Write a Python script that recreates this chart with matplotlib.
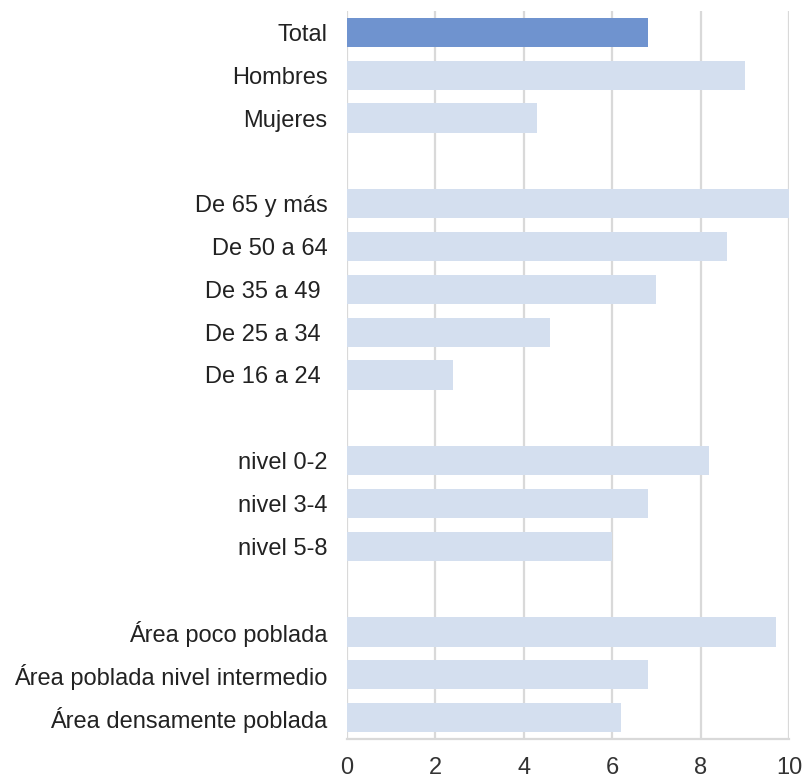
import numpy as np
import matplotlib.pyplot as plt

plt.rcParams['font.family'] = ['Liberation Sans', 'DejaVu Sans']

# categories top to bottom, None = empty spacer row
labels = ["Total", "Hombres", "Mujeres", None,
          "De 65 y más", "De 50 a 64", "De 35 a 49 ", "De 25 a 34 ", "De 16 a 24 ", None,
          "nivel 0-2", "nivel 3-4", "nivel 5-8", None,
          "Área poco poblada", "Área poblada nivel intermedio", "Área densamente poblada"]
values = [6.8, 9.0, 4.3, None,
          10.0, 8.6, 7.0, 4.6, 2.4, None,
          8.2, 6.8, 6.0, None,
          9.7, 6.8, 6.2]

fig = plt.figure(figsize=(8.04, 7.81), dpi=100)
ax = fig.add_axes([347/804, 1 - 739/781, 442/804, 728/781])

for i, (lab, v) in enumerate(zip(labels, values)):
    if v is None:
        continue
    color = '#6F93CF' if lab == "Total" else '#D4DFEF'
    ax.barh(i, v, height=0.68, color=color, zorder=3)

ax.set_yticks([i for i, l in enumerate(labels) if l is not None])
ax.set_yticklabels([l for l in labels if l is not None], fontsize=17)
ax.set_ylim(len(labels) - 0.5, -0.5)
ax.set_xlim(0, 10)
ax.set_xticks(range(0, 11, 2))
ax.tick_params(axis='x', labelsize=17, length=0, pad=13, colors='#333333')
ax.tick_params(axis='y', length=0, pad=14, colors='#222222')

ax.grid(axis='x', color='#D9D9D9', linewidth=1.6, zorder=0)
for s in ['top', 'right', 'left']:
    ax.spines[s].set_visible(False)
ax.spines['bottom'].set_color('#D9D9D9')
ax.spines['bottom'].set_linewidth(1.6)

fig.savefig('out.png', dpi=100)
